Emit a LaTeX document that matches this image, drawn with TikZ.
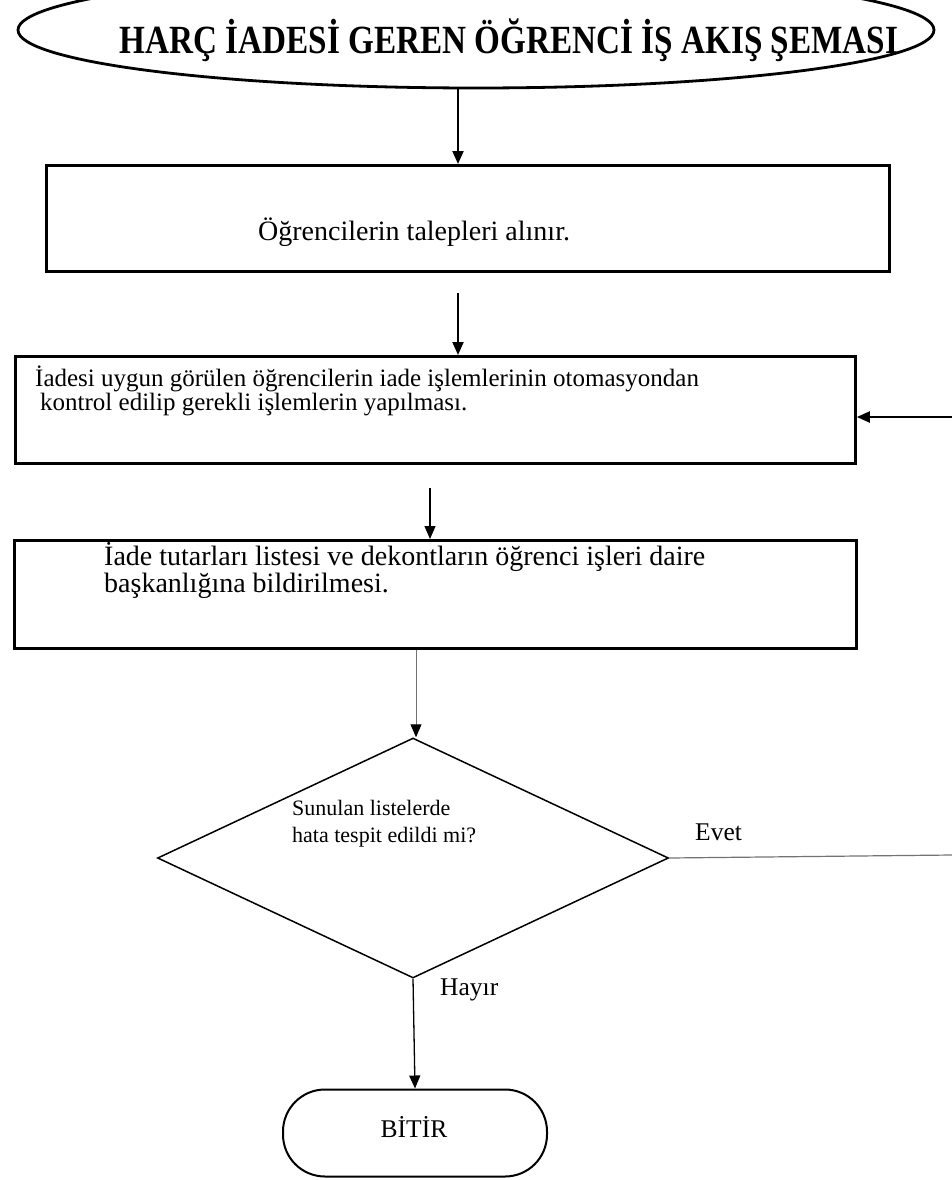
\documentclass[tikz,border=0pt]{standalone}
\usepackage{fontspec}
\setmainfont{Liberation Serif}
\usetikzlibrary{arrows.meta,shapes.geometric}
\begin{document}
\begin{tikzpicture}[x=1pt,y=-1pt,
  boxst/.style={draw, line width=2.8pt, inner sep=0pt, anchor=north west},
  arr/.style={-{Triangle[length=13pt,width=11pt]}, line width=2pt},
  thinarr/.style={-{Triangle[length=13pt,width=11pt]}, line width=1.3pt},
  txt/.style={font=\fontsize{28}{32}\selectfont, anchor=west, inner sep=0pt},
  txtb/.style={font=\fontsize{25}{29}\selectfont, anchor=west, inner sep=0pt},
  lbl/.style={font=\fontsize{25.5}{29}\selectfont, anchor=west, inner sep=0pt},
  small/.style={font=\fontsize{22}{26}\selectfont, anchor=west, inner sep=0pt},
  grayline/.style={draw=black!55, line width=1.2pt}]
\useasboundingbox (0,0) rectangle (952,1180);
\clip (0,0) rectangle (952,1180);

% title
\node[draw, ellipse, line width=2.8pt, minimum width=916pt, minimum height=116pt, inner sep=0pt] (title) at (476,30) {};
\node[inner sep=0pt] (titletext) at (509,40) {\scalebox{0.83}[1]{\fontsize{40}{44}\selectfont\bfseries HARÇ İADESİ GEREN ÖĞRENCİ İŞ AKIŞ ŞEMASI}};

% boxes
\node[boxst, minimum width=843pt, minimum height=106pt] (b1) at (45,164) {};
\node[txt] (t1) at (258,232) {Öğrencilerin talepleri alınır.};

\node[boxst, minimum width=840pt, minimum height=107pt] (b2) at (14,355) {};
\node[txtb] (t2a) at (35,379) {İadesi uygun görülen öğrencilerin iade işlemlerinin otomasyondan};
\node[txtb] (t2b) at (40,405) {kontrol edilip gerekli işlemlerin yapılması.};

\node[boxst, minimum width=842pt, minimum height=108pt] (b3) at (13,539) {};
\node[txt] (t3a) at (104,557) {İade tutarları listesi ve dekontların öğrenci işleri daire};
\node[txt] (t3b) at (104,586) {başkanlığına bildirilmesi.};

% decision
\node[draw, diamond, line width=1.5pt, minimum width=511pt, minimum height=240pt, inner sep=0pt] (dec) at (413,858) {};
\node[small] (d1) at (292,808) {Sunulan listelerde};
\node[small] (d2) at (292,837) {hata tespit edildi mi?};

\node[lbl] (evet) at (695,832) {Evet};
\node[lbl] (hayir) at (440,990) {Hayır};

% end
\node[draw, line width=2pt, rounded corners=42pt, minimum width=264pt, minimum height=87pt, inner sep=0pt] (end) at (415,1133) {};
\node[lbl, anchor=center] (endtext) at (414,1127) {BİTİR};

% connector helper coordinates
\coordinate (a1x) at (458,0);
\coordinate (a2s) at (458,293);
\coordinate (a3s) at (430,488);
\coordinate (a4x) at (416,0);
\coordinate (loopin) at (952,417);
\coordinate (evetout) at (952,855);

% connectors
\draw[arr] (title.south -| a1x) -- (b1.north -| a1x);
\draw[arr] (a2s) -- (a2s |- b2.north);
\draw[thinarr] (a3s) -- (a3s |- b3.north);
\draw[-{Triangle[length=13pt,width=11pt,color=black]}, draw=black!55, line width=1pt] (b3.south -| a4x) -- (dec.north -| a4x);
\draw[grayline] (dec.east) -- (evetout);
\draw[arr] (loopin) -- (loopin -| b2.east);
\draw[thinarr] (dec.south) -- (end.north);
\end{tikzpicture}
\end{document}
